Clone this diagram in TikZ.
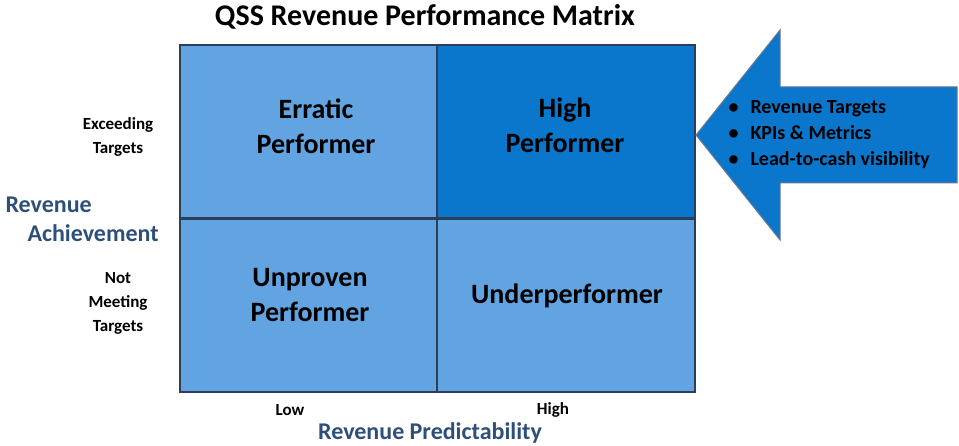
\documentclass[tikz,border=0pt]{standalone}
\usepackage{fontspec}
\setmainfont{Carlito}
\begin{document}
\begin{tikzpicture}[x=1pt,y=-1pt,
 cell/.style={draw=bord,line width=1.5pt},
 big/.style={font=\bfseries\fontsize{28}{35}\selectfont,align=center},
 small/.style={font=\bfseries\fontsize{17}{24}\selectfont,align=center},
 axis/.style={font=\bfseries\fontsize{24}{29}\selectfont,text=axc,align=left}]
\definecolor{lightc}{HTML}{62A4E1}
\definecolor{darkc}{HTML}{0A77CD}
\definecolor{axc}{HTML}{2E4F7A}
\definecolor{bord}{HTML}{2C3E5A}
\useasboundingbox (0,0) rectangle (959,446);
\fill[white] (0,0) rectangle (959,446);
\node[font=\bfseries\fontsize{30}{34}\selectfont] (title) at (425,17) {QSS Revenue Performance Matrix};
\draw[cell,fill=lightc] (180,45) rectangle (437,218);
\draw[cell,fill=darkc] (437,45) rectangle (695,218);
\draw[cell,fill=lightc] (180,219) rectangle (437,392);
\draw[cell,fill=lightc] (437,219) rectangle (695,392);
\node[big] (erratic) at (316,126) {Erratic\\Performer};
\node[big] (high) at (565,125) {High\\Performer};
\node[big] (unproven) at (310,295) {Unproven\\Performer};
\node[big] (under) at (567,296) {Underperformer};
\node[small] (exc) at (118,137) {Exceeding\\Targets};
\node[small] (notm) at (118,303) {Not\\Meeting\\Targets};
\node[small] (low) at (290,410) {Low};
\node[small] (hi) at (553,410) {High};
\node[axis,anchor=west] (ach) at (2,219) {Revenue\\\hspace*{22pt}Achievement};
\node[axis] (pred) at (430,433) {Revenue Predictability};
\draw[draw=bord!70,line width=1pt,fill=darkc] (696,135) -- (780,30) -- (780,87) -- (957,87) -- (957,183) -- (780,183) -- (780,240) -- cycle;
\node[font=\bfseries\fontsize{20}{26}\selectfont,align=left,anchor=west] (bul) at (725,135) {\textbullet\hspace{12pt}Revenue Targets\\\textbullet\hspace{12pt}KPIs \& Metrics\\\textbullet\hspace{12pt}Lead-to-cash visibility};
\end{tikzpicture}
\end{document}
